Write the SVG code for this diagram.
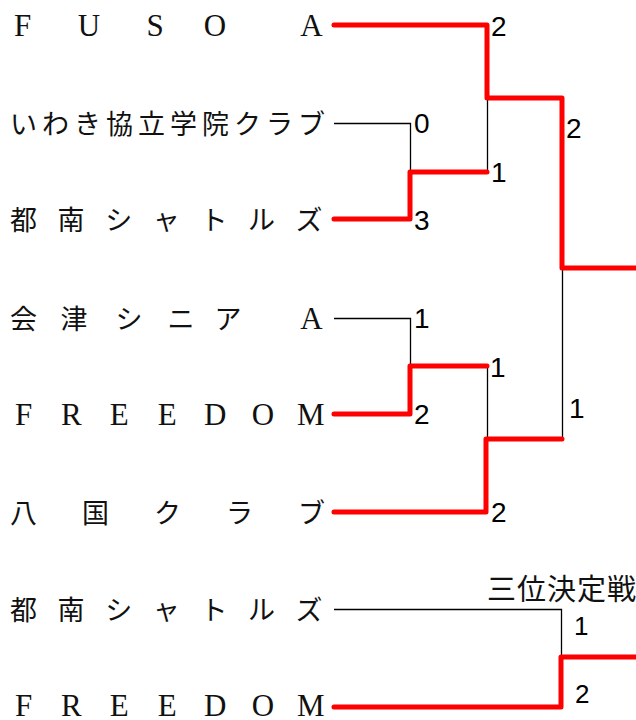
<svg xmlns="http://www.w3.org/2000/svg" width="636" height="720" viewBox="0 0 636 720">
<style>
.jp{font-family:"Noto Sans CJK JP","Noto Sans CJK SC",sans-serif;font-size:27px;fill:#111;text-anchor:middle}
.lat{font-family:"Liberation Sans",Arial,sans-serif;font-size:31px;fill:#111;text-anchor:middle}
.lat{font-family:"Liberation Serif","Times New Roman",serif}
.sc{font-family:"Liberation Sans",Arial,sans-serif;font-size:28px;fill:#000}
.sc3{font-family:"Liberation Sans",Arial,sans-serif;font-size:26px;fill:#000}
.ttl{font-family:"Noto Sans CJK JP","Noto Sans CJK SC",sans-serif;font-size:29px;fill:#111;letter-spacing:1px}
.lose{fill:none;stroke:#000;stroke-width:1.3}
.win{fill:none;stroke:#ff0000;stroke-width:5;stroke-linecap:round;stroke-linejoin:round}
</style>
<rect width="636" height="720" fill="#fff"/>
<g id="connectors">
  <path class="lose" d="M334 123.5 H410.5 V172"/>
  <path class="lose" d="M487.5 98 V172"/>
  <path class="lose" d="M334 318.5 H410.5 V366"/>
  <path class="lose" d="M487.5 366 V439"/>
  <path class="lose" d="M562.5 268 V439"/>
  <path class="lose" d="M334 609.5 H561.5 V657"/>
  <path class="win" d="M334 25 H487 V98 H562 V268 H640"/>
  <path class="win" d="M334 219 H410 V172 H487"/>
  <path class="win" d="M334 414 H410 V366 H487"/>
  <path class="win" d="M334 512 H486 V439 H562"/>
  <path class="win" d="M334 707 H561 V657 H640"/>
</g>
<g id="team-fuso-a"><text class="lat" x="22.5 89 155 215 311.5" y="36">FUSOA</text></g>
<g id="team-iwaki"><text class="jp" x="23.5 55.5 87.5 119.5 151.5 183.5 215.5 247.5 279.5 311.5" y="134">いわき協立学院クラブ</text></g>
<g id="team-tonan"><text class="jp" x="23.5 71.1 118.7 166.3 213.9 261.5 309.1" y="230">都南シャトルズ</text></g>
<g id="team-aizu"><text class="jp" x="23.5 74 129 181 228" y="329">会津シニア</text><text class="lat" x="311.5" y="329">A</text></g>
<g id="team-freedom"><text class="lat" x="23.5 71.4 119.3 167.2 215.1 263 310.9" y="425">FREEDOM</text></g>
<g id="team-hachikoku"><text class="jp" x="23.5 95.5 167.5 239.5 311.5" y="523">八国クラブ</text></g>
<g id="team-tonan-3rd"><text class="jp" x="23.5 71.1 118.7 166.3 213.9 261.5 309.1" y="620">都南シャトルズ</text></g>
<g id="team-freedom-3rd"><text class="lat" x="23.5 71.4 119.3 167.2 215.1 263 310.9" y="716">FREEDOM</text></g>
<g id="scores">
  <text class="sc" x="491" y="36">2</text>
  <text class="sc" x="566" y="138">2</text>
  <text class="sc" x="414" y="133">0</text>
  <text class="sc" x="491" y="182">1</text>
  <text class="sc" x="414" y="230">3</text>
  <text class="sc" x="414" y="328">1</text>
  <text class="sc" x="490" y="377">1</text>
  <text class="sc" x="414" y="424">2</text>
  <text class="sc" x="569" y="418">1</text>
  <text class="sc" x="491" y="522">2</text>
  <text class="sc3" x="574" y="635">1</text>
  <text class="sc3" x="575" y="703">2</text>
</g>
<g id="title-3rd"><text class="ttl" x="487" y="600">三位決定戦</text></g>
</svg>
